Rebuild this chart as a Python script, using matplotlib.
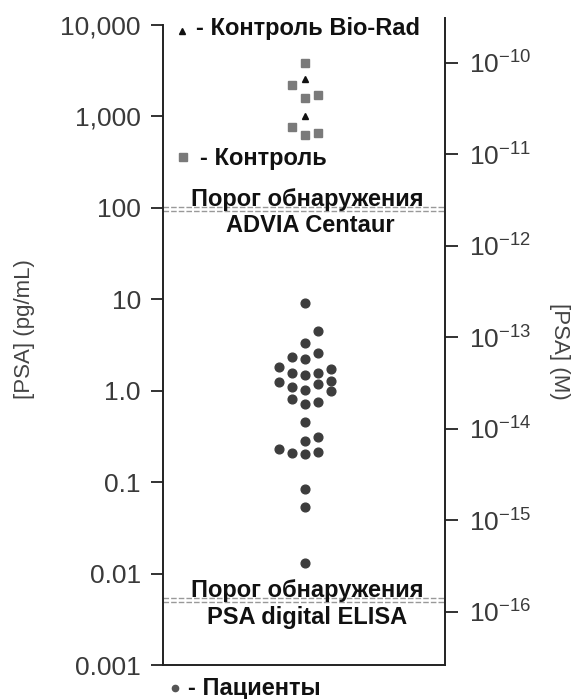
import matplotlib
matplotlib.use('Agg')
import matplotlib.pyplot as plt
from matplotlib.ticker import FixedLocator, FixedFormatter, NullLocator
from matplotlib.lines import Line2D

plt.rcParams['font.family'] = ['Liberation Sans', 'DejaVu Sans']
plt.rcParams['mathtext.default'] = 'regular'

# patients, pg/mL, with swarm column (-2..2)
patients = [9.2, 4.5, 3.35, 2.6, 2.35, 2.24, 1.83, 1.57, 1.50, 1.57,
            1.74, 1.25, 1.11, 1.03, 1.19, 1.29, 1.0, 0.82, 0.72, 0.76,
            0.46, 0.284, 0.314, 0.232, 0.21, 0.205, 0.215, 0.085, 0.053, 0.0132]
patients_col = [0, 1, 0, 1, -1, 0, -2, -1, 0, 1,
                2, -2, -1, 0, 1, 2, 2, -1, 0, 1,
                0, 0, 1, -2, -1, 0, 1, 0, 0, 0]

controls = [3870, 2210, 1580, 1720, 767, 628, 661]
controls_col = [0, -1, 0, 1, -1, 0, 1]

biorad = [2550, 1010]
biorad_col = [0, 0]

# detection limits (pg/mL), drawn as double dashed lines
advia_lim = [103, 93]
elisa_lim = [0.0054, 0.00494]

left_ticks = [0.001, 0.01, 0.1, 1, 10, 100, 1000, 10000]
left_labels = ['0.001', '0.01', '0.1', '1.0', '10', '100', '1,000', '10,000']
right_ticks = [1e-16, 1e-15, 1e-14, 1e-13, 1e-12, 1e-11, 1e-10]
pg_per_molar = 3.85e13

fig = plt.figure(figsize=(5.8, 6.99), dpi=100)
ax = fig.add_axes([0.281, 0.0486, 0.4862, 0.9256])

ax.set_yscale('log')
ax.set_ylim(0.001, 11930)
ax.set_xlim(-10.92, 10.77)

ax.plot(patients_col, patients, 'o', color='#3d3d3d', ms=6.3, mec='#3d3d3d')
ax.plot(controls_col, controls, 's', color='#7a7a7a', ms=5.8, mec='#7a7a7a')
ax.plot(biorad_col, biorad, '^', color='#111111', ms=4.5)

for v in advia_lim + elisa_lim:
    ax.axhline(v, color='#999999', lw=1.0, ls=(0, (4, 1.5)))

bold = dict(family=['Liberation Sans', 'DejaVu Sans'], fontweight='bold',
            fontsize=17, color='#111111', ha='center')
ax.annotate('Порог обнаружения', xy=(0.2, advia_lim[0]), xytext=(0, 0.5),
            textcoords='offset points', va='baseline', **bold)
ax.annotate('ADVIA Centaur', xy=(0.4, advia_lim[1]), xytext=(0, -2),
            textcoords='offset points', va='top', **bold)
ax.annotate('Порог обнаружения', xy=(0.2, elisa_lim[0]), xytext=(0, 0.5),
            textcoords='offset points', va='baseline', **bold)
ax.annotate('PSA digital ELISA', xy=(0.2, elisa_lim[1]), xytext=(0, -3),
            textcoords='offset points', va='top', **bold)

# legend keys and texts
leg = dict(family=['Liberation Sans', 'DejaVu Sans'], fontweight='bold',
           fontsize=17, color='#111111', va='center', ha='left')
fig.add_artist(Line2D([182 / 580], [1 - 31 / 699], marker='^', color='#111111', ms=4.5))
fig.text(196 / 580, 1 - 28 / 699, '- Контроль Bio-Rad', **leg)
fig.add_artist(Line2D([183 / 580], [1 - 157 / 699], marker='s', color='#7a7a7a', ms=5.8))
fig.text(200 / 580, 1 - 158 / 699, '- Контроль', **leg)
fig.add_artist(Line2D([175 / 580], [1 - 688 / 699], marker='o', color='#555555', ms=4.5))
fig.text(188 / 580, 1 - 688 / 699, '- Пациенты', **leg)

ax.yaxis.set_major_locator(FixedLocator(left_ticks))
ax.yaxis.set_major_formatter(FixedFormatter(left_labels))
ax.yaxis.set_minor_locator(NullLocator())
ax.tick_params(axis='y', direction='out', length=9, width=1.3, pad=7,
               labelsize=19, labelcolor='#3a3a3a', color='#222222')
ax.set_xticks([])
ax.set_ylabel('[PSA] (pg/mL)', fontsize=16, color='#444444', va='center')
ax.yaxis.set_label_coords(-0.49, 0.52)

for s in ['top', 'right']:
    ax.spines[s].set_visible(False)
ax.spines['left'].set_bounds(0.001, 10000)
ax.spines['left'].set_linewidth(1.4)
ax.spines['bottom'].set_linewidth(1.4)
ax.spines['left'].set_color('#222222')
ax.spines['bottom'].set_color('#222222')

ax2 = ax.twinx()
ax2.set_yscale('log')
lo, hi = ax.get_ylim()
ax2.set_ylim(lo / pg_per_molar, hi / pg_per_molar)
ax2.yaxis.set_major_locator(FixedLocator(right_ticks))
ax2.yaxis.set_minor_locator(NullLocator())
ax2.tick_params(axis='y', direction='out', length=9, width=1.3, pad=8,
                labelsize=19, labelcolor='#3a3a3a', color='#222222')
for s in ['top', 'left', 'bottom']:
    ax2.spines[s].set_visible(False)
ax2.spines['right'].set_linewidth(1.4)
ax2.spines['right'].set_color('#222222')
ax2.set_ylabel('[PSA] (M)', fontsize=16, color='#444444', rotation=270, va='center')
ax2.yaxis.set_label_coords(1.405, 0.485)

fig.savefig('out.png', dpi=100)
